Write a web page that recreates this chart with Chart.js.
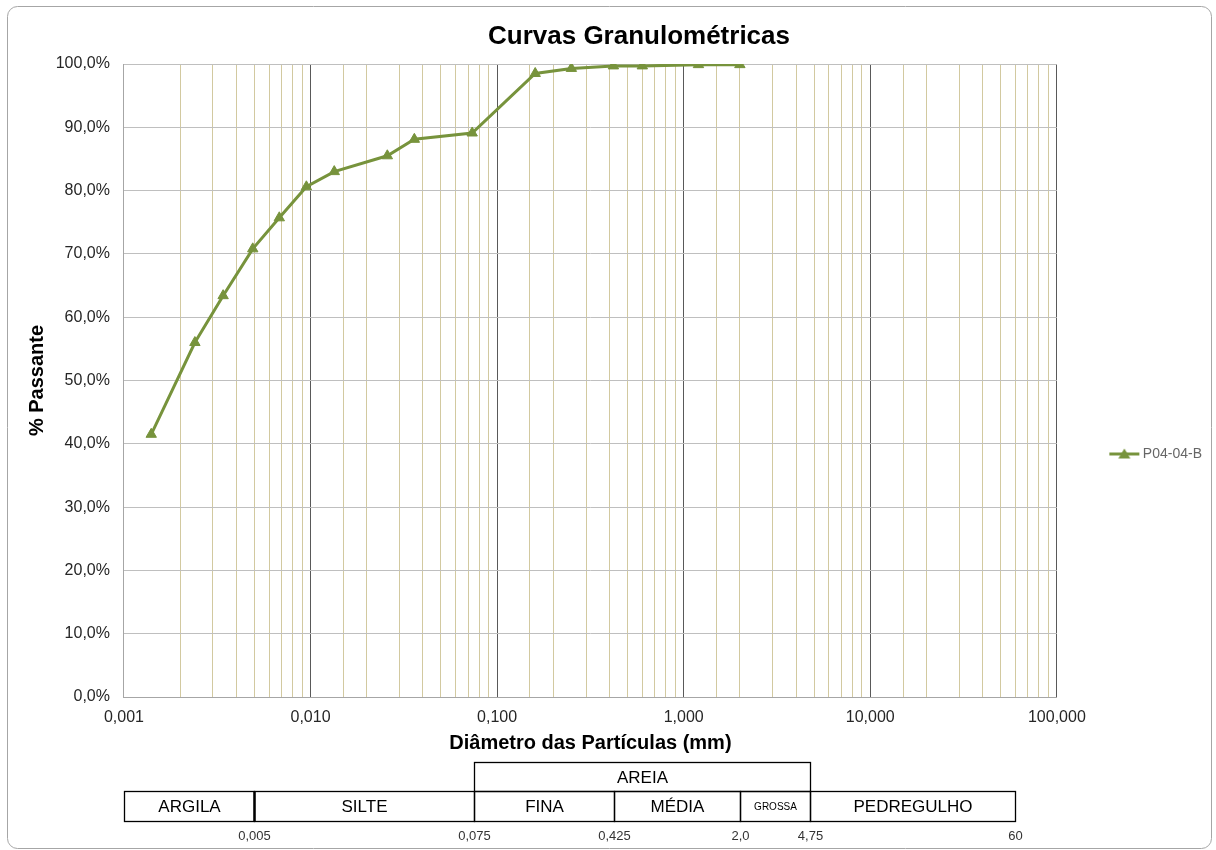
<!DOCTYPE html>
<html>
<head>
<meta charset="utf-8">
<title>Curvas Granulométricas</title>
<script src="https://cdn.jsdelivr.net/npm/chart.js@4/dist/chart.umd.min.js"></script>
<style>
  html, body { margin: 0; padding: 0; background: #ffffff; }
  #wrap { width: 1216px; height: 850px; position: relative; }
</style>
</head>
<body>
<div id="wrap"><canvas id="chart" width="1216" height="850"></canvas></div>
<script>
// ---- data ----------------------------------------------------------------
const chartTitle = 'Curvas Granulométricas';
const seriesName = 'P04-04-B';
const diameters = [0.0014, 0.0024, 0.0034, 0.0049, 0.0068, 0.0095, 0.0134, 0.0258,
                   0.036, 0.0735, 0.16, 0.25, 0.42, 0.6, 1.2, 2.0];          // mm
const passing   = [41.5, 56.0, 63.4, 70.8, 75.7, 80.6, 83.0, 85.5,
                   88.1, 89.1, 98.5, 99.3, 99.7, 99.7, 99.9, 99.9];          // %
const xTickLabels = ['0,001', '0,010', '0,100', '1,000', '10,000', '100,000'];
const yTickLabels = ['0,0%', '10,0%', '20,0%', '30,0%', '40,0%', '50,0%',
                     '60,0%', '70,0%', '80,0%', '90,0%', '100,0%'];
const xAxisTitle = 'Diâmetro das Partículas (mm)';
const yAxisTitle = '% Passante';

// soil fraction scale drawn under the axis (ABNT limits, mm)
const fractionNames  = ['ARGILA', 'SILTE', 'FINA', 'MÉDIA', 'GROSSA', 'PEDREGULHO'];
const fractionLimits = [0.001, 0.005, 0.075, 0.425, 2.0, 4.75, 60];
const limitLabels    = ['0,005', '0,075', '0,425', '2,0', '4,75', '60'];
const sandName  = 'AREIA';
const sandRange = [0.075, 4.75];

// ---- styling -------------------------------------------------------------
const FONT = '"Liberation Sans", Arial, Helvetica, sans-serif';
const LINE_COLOR = '#77933C';
const xMin = 0.001, xMax = 100;

function isDecade(v) {
  const e = Math.log10(v);
  return Math.abs(e - Math.round(e)) < 1e-6;
}

// legend marker: line with a triangle in the middle
function legendMarker() {
  const c = document.createElement('canvas');
  c.width = 32; c.height = 14;
  const g = c.getContext('2d');
  g.strokeStyle = LINE_COLOR; g.lineWidth = 3;
  g.beginPath(); g.moveTo(1, 7); g.lineTo(31, 7); g.stroke();
  g.fillStyle = LINE_COLOR;
  g.beginPath(); g.moveTo(16, 1.5); g.lineTo(22, 11.5); g.lineTo(10, 11.5); g.closePath(); g.fill();
  return c;
}

// rounded outer frame
const framePlugin = {
  id: 'frame',
  beforeDraw(chart) {
    const ctx = chart.ctx;
    ctx.save();
    ctx.fillStyle = '#ffffff';
    ctx.fillRect(0, 0, chart.width, chart.height);
    ctx.strokeStyle = '#a6a6a6';
    ctx.lineWidth = 1;
    ctx.beginPath();
    ctx.roundRect(7.5, 6.5, 1204, 842, 10);
    ctx.stroke();
    ctx.restore();
  }
};

// centred heading above the plot
const headingPlugin = {
  id: 'heading',
  afterDraw(chart, args, opts) {
    const ctx = chart.ctx;
    ctx.save();
    ctx.font = 'bold 26px ' + FONT;
    ctx.fillStyle = '#000000';
    ctx.textAlign = 'center';
    ctx.textBaseline = 'middle';
    ctx.fillText(opts.text, opts.x, opts.y);
    ctx.restore();
  }
};

// fraction table placed on the x scale
const fractionPlugin = {
  id: 'fractions',
  afterDraw(chart) {
    const {ctx, chartArea, scales} = chart;
    const x = scales.x;
    const px = v => Math.round(x.getPixelForValue(v)) + 0.5;
    const base = chartArea.bottom;
    const yTop = Math.round(base + 65) + 0.5;
    const yMid = Math.round(base + 94) + 0.5;
    const yBot = Math.round(base + 124) + 0.5;
    const yLab = base + 139;
    ctx.save();
    ctx.strokeStyle = '#000000';
    ctx.fillStyle = '#000000';
    ctx.lineWidth = 1.3;
    ctx.textAlign = 'center';
    ctx.textBaseline = 'middle';

    // upper row: sand
    const s0 = px(sandRange[0]), s1 = px(sandRange[1]);
    ctx.strokeRect(s0, yTop, s1 - s0, yMid - yTop);
    ctx.font = '17px ' + FONT;
    ctx.fillText(sandName, (s0 + s1) / 2, (yTop + yMid) / 2 + 1);

    // lower row: fractions
    for (let i = 0; i < fractionNames.length; i++) {
      const a = px(fractionLimits[i]), b = px(fractionLimits[i + 1]);
      ctx.lineWidth = 1.3;
      ctx.strokeRect(a, yMid, b - a, yBot - yMid);
      ctx.font = (fractionNames[i] === 'GROSSA' ? '10px ' : '17px ') + FONT;
      ctx.fillText(fractionNames[i], (a + b) / 2, (yMid + yBot) / 2 + 1);
    }
    // clay / silt boundary is drawn heavier
    ctx.lineWidth = 2.4;
    const cs = px(fractionLimits[1]);
    ctx.beginPath(); ctx.moveTo(cs, yMid); ctx.lineTo(cs, yBot); ctx.stroke();

    // limit values
    ctx.font = '13px ' + FONT;
    ctx.fillStyle = '#333333';
    for (let i = 0; i < limitLabels.length; i++) {
      ctx.fillText(limitLabels[i], px(fractionLimits[i + 1]), yLab);
    }
    ctx.restore();
  }
};

const points = diameters.map((d, i) => ({x: d, y: passing[i]}));

new Chart(document.getElementById('chart'), {
  type: 'line',
  data: {
    datasets: [{
      label: seriesName,
      data: points,
      borderColor: LINE_COLOR,
      backgroundColor: LINE_COLOR,
      borderWidth: 3,
      tension: 0,
      pointStyle: 'triangle',
      pointRadius: 6,
      pointBorderWidth: 1,
      pointBackgroundColor: LINE_COLOR,
      pointBorderColor: LINE_COLOR
    }]
  },
  options: {
    responsive: false,
    animation: false,
    devicePixelRatio: 1,
    layout: { padding: { top: 64, left: 0, right: 4, bottom: 95 } },
    scales: {
      x: {
        type: 'logarithmic',
        min: xMin,
        max: xMax,
        border: { display: true, color: '#a6a6a6', width: 1 },
        grid: {
          drawTicks: false,
          lineWidth: 1,
          color: c => {
            const v = c.tick ? c.tick.value : 0;
            if (Math.abs(v - xMin) < 1e-9) return '#a6a6a6';
            return isDecade(v) ? '#595959' : '#d2c9a0';
          }
        },
        ticks: {
          autoSkip: false,
          maxRotation: 0,
          padding: 11.4,
          color: '#262626',
          font: { family: FONT, size: 16 },
          callback: v => isDecade(v)
            ? xTickLabels[Math.round(Math.log10(v)) - Math.round(Math.log10(xMin))]
            : ''
        },
        title: {
          display: true,
          text: xAxisTitle,
          color: '#000000',
          font: { family: FONT, size: 20, weight: 'bold' },
          padding: { top: -8, bottom: 0 }
        }
      },
      y: {
        min: 0,
        max: 100,
        border: { display: true, color: '#a6a6a6', width: 1 },
        grid: { drawTicks: false, color: '#bfbfbf', lineWidth: 1 },
        ticks: {
          stepSize: 10,
          padding: 14,
          color: '#262626',
          font: { family: FONT, size: 16 },
          callback: v => yTickLabels[Math.round(v / 10)]
        },
        title: {
          display: true,
          text: yAxisTitle,
          color: '#000000',
          font: { family: FONT, size: 20, weight: 'bold' },
          padding: { top: 25, bottom: -7.3 }
        }
      }
    },
    plugins: {
      legend: {
        display: true,
        position: 'right',
        align: 'center',
        title: { display: true, text: '', padding: { top: 74.6, bottom: 0 } },
        labels: {
          usePointStyle: true,
          pointStyleWidth: 23,
          padding: 56,
          color: '#1a1a1a',
          font: { family: FONT, size: 14 },
          generateLabels: chart => chart.data.datasets.map((ds, i) => ({
            text: ds.label,
            pointStyle: legendMarker(),
            fillStyle: ds.borderColor,
            strokeStyle: ds.borderColor,
            lineWidth: 0,
            hidden: false,
            datasetIndex: i
          }))
        }
      },
      tooltip: { enabled: false },
      heading: { text: chartTitle, x: 639, y: 37 }
    }
  },
  plugins: [framePlugin, headingPlugin, fractionPlugin]
});
</script>
</body>
</html>
